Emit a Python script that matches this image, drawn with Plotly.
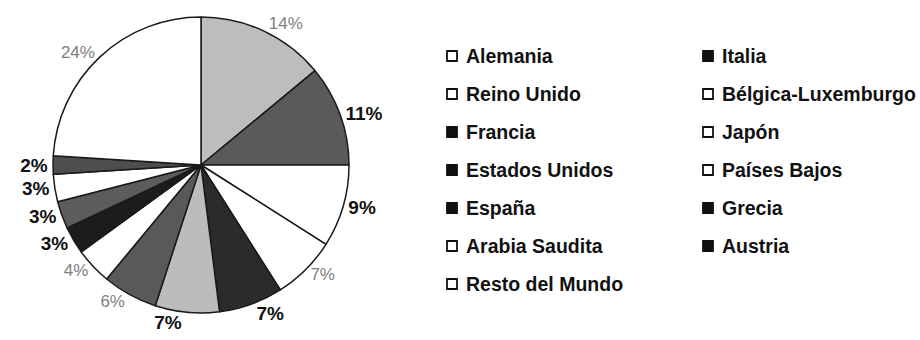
import plotly.graph_objects as go

# Shares by partner country (percent), in slice order clockwise from 12 o'clock
countries = [
    "Alemania", "Italia", "Reino Unido", "Bélgica-Luxemburgo", "Francia",
    "Japón", "Estados Unidos", "Países Bajos", "España", "Grecia",
    "Arabia Saudita", "Austria", "Resto del Mundo",
]
shares = [14, 11, 9, 7, 7, 7, 6, 4, 3, 3, 3, 2, 24]

# Greyscale fills of the slices
slice_colors = [
    "#bdbdbd", "#5a5a5a", "#ffffff", "#ffffff", "#2b2b2b",
    "#bcbcbc", "#595959", "#ffffff", "#1c1c1c", "#5c5c5c",
    "#ffffff", "#4e4e4e", "#ffffff",
]
# Which percentage labels are printed in bold black (others light grey)
bold_label = [False, True, True, False, True, True, False, False,
              True, True, True, True, False]

W, H = 920, 340

labels_txt = [f"<b>{v}%</b>" if b else f"{v}%" for v, b in zip(shares, bold_label)]
label_colors = ["#111111" if b else "#808080" for b in bold_label]
label_sizes = [19 if b else 17 for b in bold_label]

# Pie centred near (201, 165) px with radius ~148 px
cx, cy, r = 201, 165, 148

fig = go.Figure(go.Pie(
    labels=countries,
    values=shares,
    sort=False,
    direction="clockwise",
    rotation=0,
    marker=dict(colors=slice_colors, line=dict(color="#1a1a1a", width=1.5)),
    text=labels_txt,
    textinfo="text",
    textposition="outside",
    textfont=dict(family="Liberation Sans, Arial, sans-serif",
                  color=label_colors, size=label_sizes),
    outsidetextfont=dict(family="Liberation Sans, Arial, sans-serif",
                         color=label_colors, size=label_sizes),
    hoverinfo="label+percent",
    showlegend=False,
    domain=dict(x=[(cx - r) / W, (cx + r) / W],
                y=[(H - cy - r) / H, (H - cy + r) / H]),
))

# Two-column legend, filled row by row
col_swatch_x = [452, 708]
col_text_x = [464, 720]
row_y0, row_step = 56, 38
sw = 10
shapes, annotations = [], []
for i, (name, col) in enumerate(zip(countries, slice_colors)):
    c = i % 2
    row = i // 2
    yc = row_y0 + row * row_step
    dark = int(col[1:3], 16) < 0x80
    fill = "#111111" if dark else "#ffffff"
    shapes.append(dict(
        type="rect", xref="paper", yref="paper",
        x0=(col_swatch_x[c] - sw / 2) / W, x1=(col_swatch_x[c] + sw / 2) / W,
        y0=(H - yc - sw / 2) / H, y1=(H - yc + sw / 2) / H,
        line=dict(color="#111111", width=1.8), fillcolor=fill,
    ))
    annotations.append(dict(
        text=f"<b>{name}</b>", xref="paper", yref="paper",
        x=col_text_x[c] / W, y=(H - yc) / H,
        xanchor="left", yanchor="middle", showarrow=False,
        font=dict(family="Liberation Sans, Arial, sans-serif", size=19.5,
                  color="#111111"),
    ))

fig.update_layout(
    width=W, height=H,
    margin=dict(l=0, r=0, t=0, b=0),
    paper_bgcolor="white",
    plot_bgcolor="white",
    shapes=shapes,
    annotations=annotations,
)

fig.write_html("out.html")
